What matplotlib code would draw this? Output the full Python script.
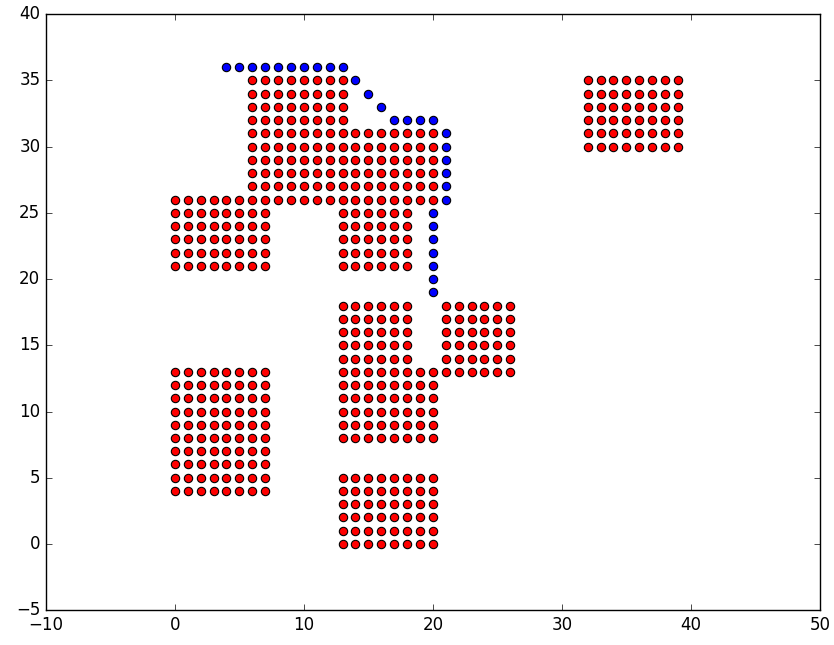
import matplotlib
matplotlib.use('Agg')
import matplotlib.pyplot as plt
import numpy as np

# obstacle rectangles: x_min, x_max, y_min, y_max (integer grid, inclusive)
obs_x0 = [6, 13, 0, 13, 13, 13, 21, 0, 13, 32]
obs_x1 = [13, 20, 7, 18, 18, 20, 26, 7, 20, 39]
obs_y0 = [26, 26, 21, 21, 13, 8, 13, 4, 0, 30]
obs_y1 = [35, 31, 26, 25, 18, 13, 18, 13, 5, 35]

# path found
path_x = [4, 5, 6, 7, 8, 9, 10, 11, 12, 13, 14, 15, 16, 17, 18, 19, 20,
          21, 21, 21, 21, 21, 21, 20, 20, 20, 20, 20, 20, 20]
path_y = [36, 36, 36, 36, 36, 36, 36, 36, 36, 36, 35, 34, 33, 32, 32, 32, 32,
          31, 30, 29, 28, 27, 26, 25, 24, 23, 22, 21, 20, 19]

pts = set()
for x0, x1, y0, y1 in zip(obs_x0, obs_x1, obs_y0, obs_y1):
    for x in range(x0, x1 + 1):
        for y in range(y0, y1 + 1):
            pts.add((x, y))
pts = sorted(pts)
ox = [p[0] for p in pts]
oy = [p[1] for p in pts]

plt.style.use('classic')
fig = plt.figure(figsize=(8.34, 6.45), dpi=100, facecolor='white')
ax = fig.add_axes([0.055, 0.054, 0.928, 0.924])
ax.plot(ox, oy, 'ro', markersize=6, markeredgewidth=0.8)
ax.plot(path_x, path_y, 'bo', markersize=6, markeredgewidth=0.8)
ax.set_xlim(-10, 50)
ax.set_ylim(-5, 40)
fig.savefig('out.png', dpi=100, facecolor='white')
